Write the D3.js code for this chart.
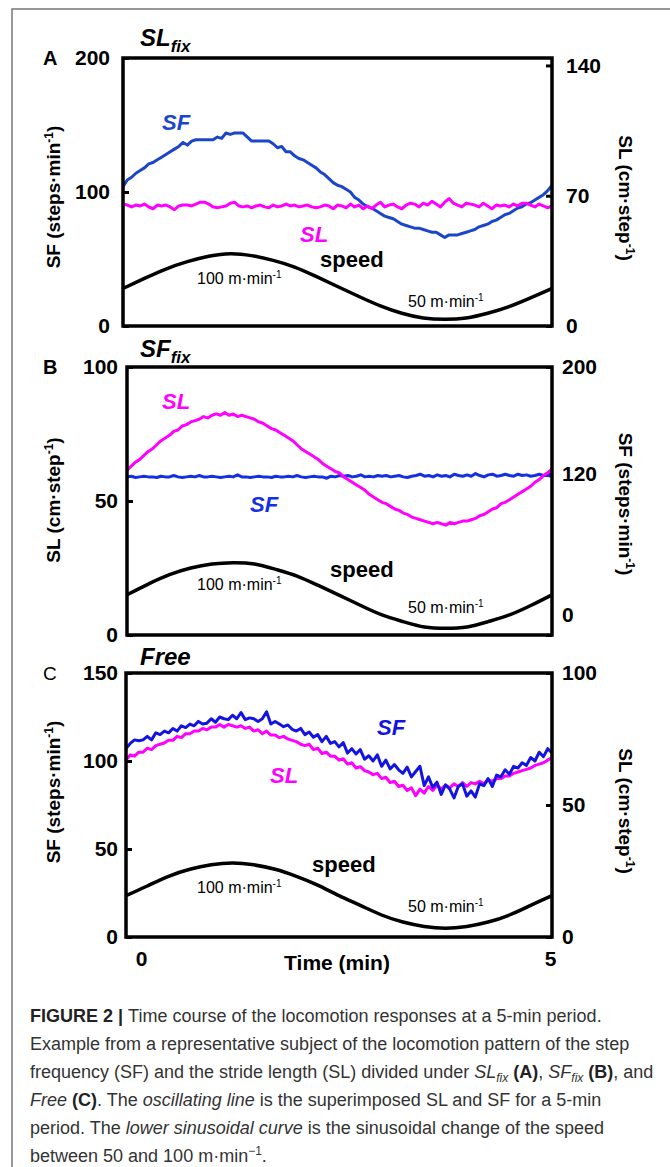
<!DOCTYPE html>
<html>
<head>
<meta charset="utf-8">
<title>Figure 2</title>
<style>
  body { margin: 0; background: #fff; }
  svg { display: block; font-family: "Liberation Sans", Arial, sans-serif; }
  .box { fill: none; stroke: #000; stroke-width: 3.5; }
  .axis .domain { display: none; }
  .axis line { stroke: #000; stroke-width: 3; }
  .axis text { font-size: 21px; font-weight: bold; fill: #000; }
  .series { fill: none; stroke-width: 3; stroke-linejoin: round; }
  .speed { fill: none; stroke: #000; stroke-width: 3.5; }
  .caption { font-size: 18px; fill: #333; }
</style>
</head>
<body>
<svg width="670" height="1167"></svg>
<script src="https://cdnjs.cloudflare.com/ajax/libs/d3/7.8.5/d3.min.js"></script>
<script>
// sampling of the traces (min)
const step = 0.05;
const speedStep = 0.25;
const timeTicks = [0, 5];

// A: SL fixed
const slFixSF = [104,109,111,114,116,118,121,122,124,126,
  128,130,132,134,137,135,138,139,139,139,
  139,139,141,140,144,143,144,144,144,141,
  138,138,138,138,138,136,133,134,130,130,
  127,125,124,122,120,118,115,113,110,107,
  105,104,102,100,96,94,91,89,88,86,
  84,82,81,80,78,76,75,74,73,73,
  72,71,70,70,68,66,68,68,68,69,
  70,71,72,74,75,76,78,79,81,83,
  84,86,88,89,91,92,94,96,98,101,105];
const slFixSL = [65.5,65,64,65,64.5,65.5,64,63,65,64.5,
  65,64,62.5,64.5,65,65,64.5,65.5,66.5,66.5,
  65.5,64,63.5,64,64.5,66,66.5,64.5,64,64.5,
  63.5,64.5,65,64,63.5,65,64,64.5,65.5,64.5,
  65,64,64.5,65,64,63.5,64,65,64.5,63,
  65,64.5,63.5,65.5,64,65,63,64.5,63,65,
  66.5,64,65,65.5,64,63,65,66,65.5,64,
  66,65,67,65.5,64,66.5,68.5,66,65,64,
  66,65.5,65,64,66,64.5,63,65,64.5,65,
  64,65.5,64.5,66,66,65,64,65.5,64.5,63.5,64.5];
const slFixSpeed = [28,35.5,42.5,48,52,54,52.5,49,44,37,29.5,22,15,9.5,6,5,6,9.5,14.5,21,28];

// B: SF fixed
const sfFixSL = [61.5,63,64.5,65.5,67,68.5,69.5,71,72.5,73.5,
  74.5,76,76.5,78,78.5,79.5,80,80.5,81.5,81,
  82,82.5,82,83,82,82.5,81.5,82,81.5,81,
  80.5,79.5,79,78,77,76.5,75.5,74.5,73.5,72.5,
  71,69.5,68.5,67.5,66.5,65.5,64,63,62,61,
  60.5,59,58,57,56,55,54,52.5,51.5,50.5,
  49.5,49,48,47,46.5,45.5,45,44,43.5,43,
  42.5,42,41.5,42,41.5,41,42,41.5,42,42.5,
  42.5,43,43.5,44.5,45,46,47,47.5,49,49.5,
  50.5,51.5,52.5,53.5,54.5,55.5,57,58,59.5,60.5,62];
const sfFixSF = [118,118.5,117.5,118,118.5,118,118,117.5,118.5,118,
  118,119,118,117.5,118,118.5,118,119,118,118,
  118.5,118,117.5,118,118.5,118,119.5,118,118,117.5,
  118,118.5,118,118,117.5,118.5,118,118,118.5,118,
  119,118,117.5,118,118.5,118,118,117,118.5,118,
  119,118.5,119,118,118.5,119.5,118,118.5,118,119,
  118.5,119,118,118.5,119,118,117.5,118.5,119,120,
  118.5,119,118,119.5,118.5,119,118,120,119,118.5,
  119.5,118.5,120.5,119,118,119.5,120,118.5,119,120,
  119,118.5,120,119,119.5,118.5,119,120,119,119,118.5];
const sfFixSpeed = [15,19,22.5,25,26.5,27,26.5,24.5,22,18.5,14.8,11,7.5,5,3,2.5,3,5,7.5,11,15];

// C: free
const freeSF = [107,110,112,111.5,112,114,112,116,115,117,
  116,118.5,117,120,119,121,120,122.5,121,121.5,
  124,122,125,124,123.5,126,124,127.5,123.5,124.5,
  124,122.5,124,128,121,122.5,121,119.5,120.5,118,
  117,118.5,115,116.5,113.5,115,111,114,110,111,
  108,110.5,104.5,107,104,106.5,101,103,100,103.5,
  97,100.5,95.5,98,95,93,96.5,91,94,97,
  86,91,85,88,81,86.5,84,79,85.5,87,
  80,83,79.5,87,86,90,85.5,92,91,95,
  92.5,97,96,99,97.5,102,100,105,102.5,107,104.5];
const freeSL = [67,69,68.5,70,70,71.5,71,72.5,73,73.5,
  74.5,74.5,76,75.5,77,77,78,78,79,78.5,
  79.5,79.5,80.5,79.5,80.5,80,79.5,80,79,79.5,
  78,78.5,77,78,76.5,76.5,75.5,76,75,74.5,
  74,73,72.5,73,71,71.5,69.5,70,68.5,68.5,
  67,67.5,65.5,66,64,64.5,63,62.5,61.5,62,
  60,60.5,58.5,59,57,57.5,55.5,56.5,53.5,56,
  54.5,57,55.5,57.5,56,57.5,56.5,58,57,58.5,
  57,58.5,58,59,58,59.5,59,60,60,61,
  61,62,62.5,63,63.5,64,65,65.5,66,67,68];
const freeSpeed = [23.5,29,34.5,38.5,41,42,41,38.5,34.5,29.5,23.5,18,12.5,8.5,6,5,6,8.5,12.5,18,23.5];

const magenta = '#ff00ff';

const panels = [
  { letter: 'A', letterWeight: 'bold', title: ['SL', 'fix'], titleY: 46,
    box: { x0: 123, x1: 552, y0: 58, y1: 326 },
    left: { domain: [0, 200], ticks: [0, 100, 200], pad: 13, name: 'SF (steps·min' },
    right: { domain: [0, 144], ticks: [0, 70, 140], pad: 14, name: 'SL (cm·step' },
    leftTitleY: 197, rightTitleY: 198,
    traces: [
      { values: slFixSF, axis: 'left', color: '#1b46c9', width: 3.2 },
      { values: slFixSL, axis: 'right', color: magenta, width: 3 }
    ],
    speed: slFixSpeed,
    notes: { SF: [39, 72, '#1b46c9'], SL: [177, 184, magenta], speed: [197, 209], hi: [74, 226], lo: [285, 249] } },
  { letter: 'B', letterWeight: 'bold', title: ['SF', 'fix'], titleY: 357,
    box: { x0: 127, x1: 552, y0: 367, y1: 635 },
    left: { domain: [0, 100], ticks: [0, 50, 100], pad: 9, name: 'SL (cm·step' },
    right: { domain: [0, 200], ticks: [0, 120, 200], pad: 10, name: 'SF (steps·min', zeroLift: 20 },
    leftTitleY: 500, rightTitleY: 504,
    traces: [
      { values: sfFixSF, axis: 'right', color: '#1530e0', width: 3 },
      { values: sfFixSL, axis: 'left', color: magenta, width: 4 }
    ],
    speed: sfFixSpeed,
    notes: { SL: [35, 42, magenta], SF: [123, 145, '#1530e0'], speed: [203, 210], hi: [70, 223], lo: [281, 246] } },
  { letter: 'C', letterWeight: 'normal', title: ['Free', ''], titleY: 665,
    box: { x0: 126, x1: 552, y0: 673, y1: 937 },
    left: { domain: [0, 150], ticks: [0, 50, 100, 150], pad: 8, name: 'SF (steps·min' },
    right: { domain: [0, 100], ticks: [0, 50, 100], pad: 10, name: 'SL (cm·step' },
    leftTitleY: 792, rightTitleY: 811,
    traces: [
      { values: freeSL, axis: 'right', color: magenta, width: 3.2 },
      { values: freeSF, axis: 'left', color: '#1414e0', width: 3 }
    ],
    speed: freeSpeed,
    notes: { SF: [251, 62, '#1414e0'], SL: [144, 110, magenta], speed: [186, 199], hi: [71, 220], lo: [282, 239] },
    timeAxis: true }
];

const svg = d3.select('svg');

// outer frame of the figure
svg.append('path')
  .attr('d', 'M670,9H12V1167')
  .attr('fill', 'none')
  .attr('stroke', '#777')
  .attr('stroke-width', 1.5);

function unitTitle(sel, name) {
  sel.append('tspan').text(name);
  sel.append('tspan').attr('dy', -7).attr('font-size', 12).text('-1');
  sel.append('tspan').attr('dy', 7).text(')');
}

panels.forEach(p => {
  const b = p.box;
  const g = svg.append('g');
  const x = d3.scaleLinear().domain([0, 5]).range([b.x0, b.x1]);
  const yL = d3.scaleLinear().domain(p.left.domain).range([b.y1, b.y0]);
  const yR = d3.scaleLinear().domain(p.right.domain).range([b.y1, b.y0]);

  const axL = g.append('g').attr('class', 'axis')
    .attr('transform', `translate(${b.x0},0)`)
    .call(d3.axisLeft(yL).tickValues(p.left.ticks).tickSizeInner(-6).tickSizeOuter(0).tickPadding(p.left.pad));
  const axR = g.append('g').attr('class', 'axis')
    .attr('transform', `translate(${b.x1},0)`)
    .call(d3.axisRight(yR).tickValues(p.right.ticks).tickSizeInner(-6).tickSizeOuter(0).tickPadding(p.right.pad));
  if (p.right.zeroLift) {
    axR.selectAll('.tick').filter(d => d === 0).select('text').attr('y', -p.right.zeroLift);
  }
  axL.selectAll('text').attr('font-family', null);
  axR.selectAll('text').attr('font-family', null);

  if (p.timeAxis) {
    const axX = g.append('g').attr('class', 'axis')
      .attr('transform', `translate(0,${b.y1})`)
      .call(d3.axisBottom(x).tickValues(timeTicks).tickFormat(d3.format('d')).tickSize(0).tickPadding(14));
    axX.selectAll('text').attr('font-family', null).attr('dx', d => d === 0 ? 15 : -2);
    g.append('text')
      .attr('x', 337).attr('y', 970)
      .attr('text-anchor', 'middle')
      .attr('font-size', 21).attr('font-weight', 'bold')
      .text('Time (min)');
  }

  // traces
  p.traces.forEach(s => {
    const y = s.axis === 'left' ? yL : yR;
    g.append('path')
      .datum(s.values)
      .attr('class', 'series')
      .attr('stroke', s.color)
      .attr('stroke-width', s.width)
      .attr('d', d3.line().x((d, i) => x(i * step)).y(d => y(d)));
  });

  g.append('path')
    .datum(p.speed)
    .attr('class', 'speed')
    .attr('d', d3.line().curve(d3.curveNatural).x((d, i) => x(i * speedStep)).y(d => yL(d)));

  g.append('rect').attr('class', 'box')
    .attr('x', b.x0).attr('y', b.y0)
    .attr('width', b.x1 - b.x0).attr('height', b.y1 - b.y0);

  // panel letter and title
  g.append('text')
    .attr('x', 43).attr('y', b.y0 + 7)
    .attr('font-size', p.letterWeight === 'bold' ? 20 : 19)
    .attr('font-weight', p.letterWeight)
    .text(p.letter);
  const t = g.append('text')
    .attr('x', 140).attr('y', p.titleY)
    .attr('font-style', 'italic').attr('font-weight', 'bold')
    .attr('font-size', 24);
  t.append('tspan').text(p.title[0]);
  if (p.title[1]) t.append('tspan').attr('font-size', 17).attr('dy', 6).text(p.title[1]);

  // axis titles
  unitTitle(g.append('text')
    .attr('transform', `translate(53,${p.leftTitleY}) rotate(-90)`)
    .attr('dy', '0.35em')
    .attr('text-anchor', 'middle')
    .attr('font-size', 19).attr('font-weight', 'bold'), p.left.name);
  unitTitle(g.append('text')
    .attr('transform', `translate(626,${p.rightTitleY}) rotate(90)`)
    .attr('dy', '0.35em')
    .attr('text-anchor', 'middle')
    .attr('font-size', 19).attr('font-weight', 'bold'), p.right.name);

  // annotations
  const n = p.notes;
  ['SF', 'SL'].forEach(k => {
    g.append('text')
      .attr('x', b.x0 + n[k][0]).attr('y', b.y0 + n[k][1])
      .attr('fill', n[k][2])
      .attr('font-size', 22).attr('font-weight', 'bold').attr('font-style', 'italic')
      .text(k);
  });
  g.append('text')
    .attr('x', b.x0 + n.speed[0]).attr('y', b.y0 + n.speed[1])
    .attr('font-size', 22).attr('font-weight', 'bold')
    .text('speed');
  [['hi', '100 m·min'], ['lo', '50 m·min']].forEach(([k, label]) => {
    const tx = g.append('text')
      .attr('x', b.x0 + n[k][0]).attr('y', b.y0 + n[k][1])
      .attr('font-size', 16);
    tx.append('tspan').text(label);
    tx.append('tspan').attr('dy', -6).attr('font-size', 10).text('-1');
  });
});

// caption
const captionLines = [
  [['b', 'FIGURE 2 | '], ['', 'Time course of the locomotion responses at a 5-min period.']],
  [['', 'Example from a representative subject of the locomotion pattern of the step']],
  [['', 'frequency (SF) and the stride length (SL) divided under '], ['i', 'SL'], ['isub', 'fix'], ['', ' '], ['b', '(A)'], ['', ', '],
   ['i', 'SF'], ['isub', 'fix'], ['', ' '], ['b', '(B)'], ['', ', and']],
  [['i', 'Free'], ['', ' '], ['b', '(C)'], ['', '. The '], ['i', 'oscillating line'], ['', ' is the superimposed SL and SF for a 5-min']],
  [['', 'period. The '], ['i', 'lower sinusoidal curve'], ['', ' is the sinusoidal change of the speed']],
  [['', 'between 50 and 100 m·min'], ['sup', '−1'], ['', '.']]
];

const caption = svg.append('text').attr('class', 'caption');
captionLines.forEach((line, li) => {
  let shift = 0;
  line.forEach(([style, str], si) => {
    const ts = caption.append('tspan').text(str);
    if (si === 0) ts.attr('x', 30).attr('y', 1022 + li * 28);
    let target = 0;
    if (style === 'isub') target = 4;
    if (style === 'sup') target = -7;
    if (si > 0 && target !== shift) ts.attr('dy', target - shift);
    shift = target;
    if (style === 'b') ts.attr('font-weight', 'bold').attr('fill', '#222');
    if (style === 'i' || style === 'isub') ts.attr('font-style', 'italic');
    if (style === 'isub' || style === 'sup') ts.attr('font-size', 12);
  });
});
</script>
</body>
</html>
